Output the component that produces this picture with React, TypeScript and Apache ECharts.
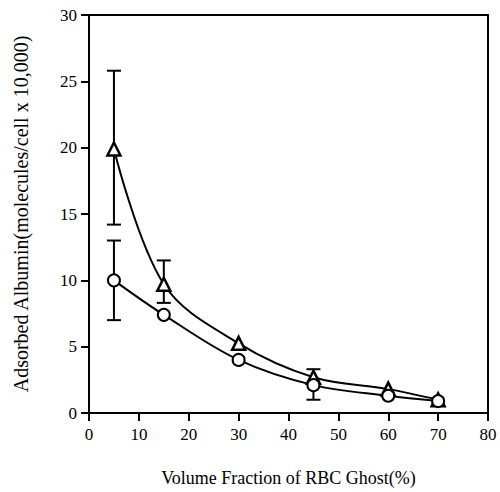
import React, { useEffect, useRef } from "react";
import * as echarts from "echarts";

const xValues = [5, 15, 30, 45, 60, 70];
const triangleValues = [19.9, 9.7, 5.25, 2.7, 1.8, 1.0];
const circleValues = [10.0, 7.4, 4.0, 2.1, 1.3, 0.9];

// error bars: [x, value, low, high]
const triangleErrors = [
  [5, 19.9, 14.2, 25.8],
  [15, 9.7, 8.3, 11.5],
  [45, 2.7, 2.7, 3.3],
];
const circleErrors = [
  [5, 10.0, 7.0, 13.0],
  [45, 2.1, 1.0, 2.1],
];

const xTicks = [0, 10, 20, 30, 40, 50, 60, 70, 80];
const yTicks = [0, 5, 10, 15, 20, 25, 30];

const FONT = "Liberation Serif";

function errorRender(params: any, api: any) {
  const x = api.value(0);
  const v = api.value(1);
  const lo = api.value(2);
  const hi = api.value(3);
  const pLo = api.coord([x, lo]);
  const pHi = api.coord([x, hi]);
  const cap = 7;
  const style = { stroke: "#000", lineWidth: 2 };
  const children: any[] = [
    { type: "line", shape: { x1: pLo[0], y1: pLo[1], x2: pHi[0], y2: pHi[1] }, style },
  ];
  if (hi > v) {
    children.push({ type: "line", shape: { x1: pHi[0] - cap, y1: pHi[1], x2: pHi[0] + cap, y2: pHi[1] }, style });
  }
  if (lo < v) {
    children.push({ type: "line", shape: { x1: pLo[0] - cap, y1: pLo[1], x2: pLo[0] + cap, y2: pLo[1] }, style });
  }
  return { type: "group", children };
}

export default function App() {
  const ref = useRef<HTMLDivElement>(null);
  useEffect(() => {
    if (!ref.current) return;
    const chart = echarts.init(ref.current, null, { renderer: "svg" });
    chart.setOption({
      animation: false,
      backgroundColor: "#fff",
      grid: {
        left: 89,
        right: 12,
        top: 15,
        bottom: 77,
        show: true,
        borderColor: "#000",
        borderWidth: 2,
      },
      xAxis: {
        type: "value",
        min: xTicks[0],
        max: xTicks[xTicks.length - 1],
        interval: 10,
        name: "Volume Fraction of RBC Ghost(%)",
        nameLocation: "middle",
        nameGap: 56,
        nameTextStyle: { fontFamily: FONT, fontSize: 18, color: "#000" },
        axisLine: { show: true, lineStyle: { color: "#000", width: 2 } },
        axisTick: { show: true, length: 8, lineStyle: { color: "#000", width: 2 } },
        axisLabel: { fontFamily: FONT, fontSize: 17, color: "#000", margin: 13 },
        splitLine: { show: false },
      },
      yAxis: {
        type: "value",
        min: yTicks[0],
        max: yTicks[yTicks.length - 1],
        interval: 5,
        name: "Adsorbed Albumin(molecules/cell x 10,000)",
        nameLocation: "middle",
        nameGap: 58,
        nameTextStyle: { fontFamily: FONT, fontSize: 20, color: "#000" },
        axisLine: { show: true, lineStyle: { color: "#000", width: 2 } },
        axisTick: { show: true, length: 8, lineStyle: { color: "#000", width: 2 } },
        axisLabel: { fontFamily: FONT, fontSize: 17, color: "#000", margin: 12 },
        splitLine: { show: false },
      },
      series: [
        {
          type: "custom",
          renderItem: errorRender,
          data: triangleErrors,
          z: 1,
          silent: true,
        },
        {
          type: "custom",
          renderItem: errorRender,
          data: circleErrors,
          z: 1,
          silent: true,
        },
        {
          type: "line",
          data: xValues.map((x, i) => [x, triangleValues[i]]),
          smooth: 0.35,
          symbol: "triangle",
          symbolSize: 13,
          lineStyle: { color: "#000", width: 2 },
          itemStyle: { color: "#fff", borderColor: "#000", borderWidth: 2.5 },
          z: 3,
        },
        {
          type: "line",
          data: xValues.map((x, i) => [x, circleValues[i]]),
          smooth: 0.35,
          symbol: "circle",
          symbolSize: 12,
          lineStyle: { color: "#000", width: 2 },
          itemStyle: { color: "#fff", borderColor: "#000", borderWidth: 2 },
          z: 3,
        },
      ],
    });
    return () => chart.dispose();
  }, []);
  return <div ref={ref} style={{ width: 500, height: 492, position: "absolute", left: 0, top: 0 }} />;
}
